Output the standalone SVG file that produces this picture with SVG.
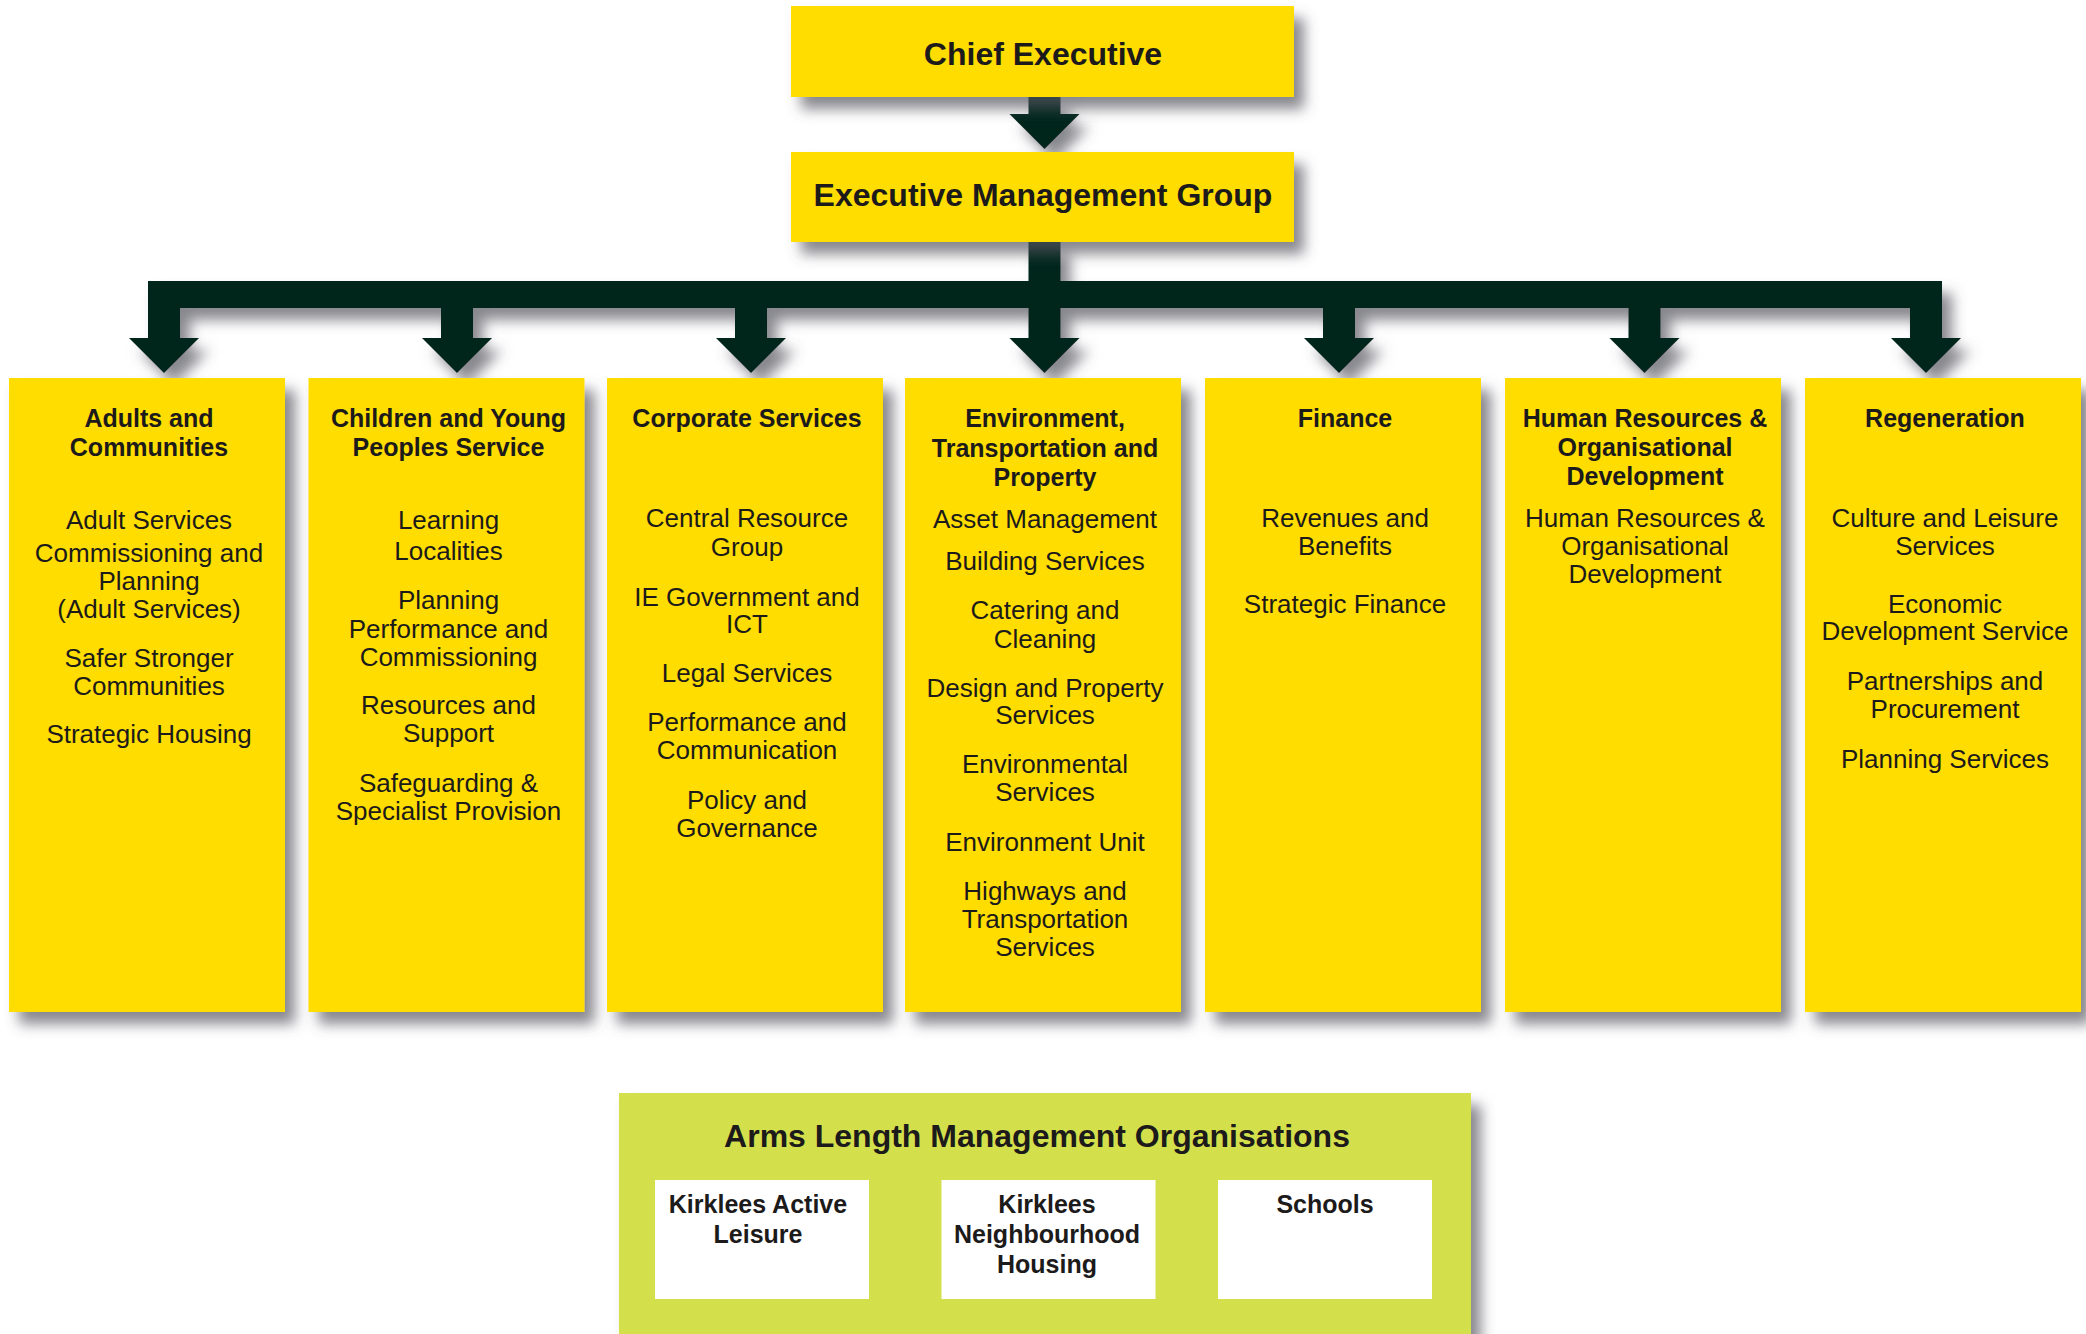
<svg xmlns="http://www.w3.org/2000/svg" width="2086" height="1334" viewBox="0 0 2086 1334">
<defs>
<filter id="sh" x="-20%" y="-30%" width="150%" height="170%">
<feDropShadow dx="10" dy="12" stdDeviation="7" flood-color="#55555f" flood-opacity="0.7"/>
</filter>
<style>
.box{fill:#FFDD00;}
.t{font-family:"Liberation Sans",Arial,sans-serif;fill:#1c1a1a;text-anchor:middle;}
.b{font-weight:bold;font-size:25px;}
.r{font-size:26px;}
.big{font-weight:bold;font-size:32px;}
.arr{fill:#00261A;}
.alm{fill:#D4E04C;}
.wb{fill:#FFFFFF;}
</style>
</defs>
<rect width="2086" height="1334" fill="#FFFFFF"/>

<g id="connectors" filter="url(#sh)">
<path class="arr" d="M1028.5,97 H1060.5 V114 H1079.5 L1044.5,149 L1009.5,114 H1028.5 Z"/>
<path class="arr" d="M1028.5,242 H1060.5 V281 H1942 V338 H1961 L1926,373 L1891,338 H1910 V308 H1660.5 V338 H1679.5 L1644.5,373 L1609.5,338 H1628.5 V308 H1355 V338 H1374 L1339,373 L1304,338 H1323 V308 H1060.5 V338 H1079.5 L1044.5,373 L1009.5,338 H1028.5 V308 H767 V338 H786 L751,373 L716,338 H735 V308 H473 V338 H492 L457,373 L422,338 H441 V308 H180 V338 H199 L164,373 L129,338 H148 V281 H1028.5 Z"/>
</g>

<g id="chief-executive">
<rect class="box" x="791" y="6" width="503" height="91" filter="url(#sh)"/>
<text class="t big" x="1043" y="65">Chief Executive</text>
</g>

<g id="executive-management-group">
<rect class="box" x="791" y="152" width="503" height="90" filter="url(#sh)"/>
<text class="t big" x="1043" y="206">Executive Management Group</text>
</g>

<g id="adults-and-communities">
<rect class="box" x="9" y="378" width="276" height="634" filter="url(#sh)"/>
<text class="t b" x="149" y="427">Adults and</text>
<text class="t b" x="149" y="456">Communities</text>
<text class="t r" x="149" y="529">Adult Services</text>
<text class="t r" x="149" y="562">Commissioning and</text>
<text class="t r" x="149" y="590">Planning</text>
<text class="t r" x="149" y="618">(Adult Services)</text>
<text class="t r" x="149" y="667">Safer Stronger</text>
<text class="t r" x="149" y="695">Communities</text>
<text class="t r" x="149" y="743">Strategic Housing</text>
</g>

<g id="children-and-young-peoples-service">
<rect class="box" x="308.5" y="378" width="276" height="634" filter="url(#sh)"/>
<text class="t b" x="448.5" y="427">Children and Young</text>
<text class="t b" x="448.5" y="456">Peoples Service</text>
<text class="t r" x="448.5" y="529">Learning</text>
<text class="t r" x="448.5" y="560">Localities</text>
<text class="t r" x="448.5" y="609">Planning</text>
<text class="t r" x="448.5" y="638">Performance and</text>
<text class="t r" x="448.5" y="666">Commissioning</text>
<text class="t r" x="448.5" y="714">Resources and</text>
<text class="t r" x="448.5" y="742">Support</text>
<text class="t r" x="448.5" y="792">Safeguarding &amp;</text>
<text class="t r" x="448.5" y="820">Specialist Provision</text>
</g>

<g id="corporate-services">
<rect class="box" x="607" y="378" width="276" height="634" filter="url(#sh)"/>
<text class="t b" x="747" y="427">Corporate Services</text>
<text class="t r" x="747" y="527">Central Resource</text>
<text class="t r" x="747" y="556">Group</text>
<text class="t r" x="747" y="606">IE Government and</text>
<text class="t r" x="747" y="633">ICT</text>
<text class="t r" x="747" y="682">Legal Services</text>
<text class="t r" x="747" y="731">Performance and</text>
<text class="t r" x="747" y="759">Communication</text>
<text class="t r" x="747" y="809">Policy and</text>
<text class="t r" x="747" y="837">Governance</text>
</g>

<g id="environment-transportation-and-property">
<rect class="box" x="905" y="378" width="276" height="634" filter="url(#sh)"/>
<text class="t b" x="1045" y="427">Environment,</text>
<text class="t b" x="1045" y="456.5">Transportation and</text>
<text class="t b" x="1045" y="485.5">Property</text>
<text class="t r" x="1045" y="528">Asset Management</text>
<text class="t r" x="1045" y="570">Building Services</text>
<text class="t r" x="1045" y="619">Catering and</text>
<text class="t r" x="1045" y="648">Cleaning</text>
<text class="t r" x="1045" y="696.5">Design and Property</text>
<text class="t r" x="1045" y="724">Services</text>
<text class="t r" x="1045" y="773">Environmental</text>
<text class="t r" x="1045" y="801">Services</text>
<text class="t r" x="1045" y="851">Environment Unit</text>
<text class="t r" x="1045" y="900">Highways and</text>
<text class="t r" x="1045" y="928">Transportation</text>
<text class="t r" x="1045" y="956">Services</text>
</g>

<g id="finance">
<rect class="box" x="1205" y="378" width="276" height="634" filter="url(#sh)"/>
<text class="t b" x="1345" y="427">Finance</text>
<text class="t r" x="1345" y="527">Revenues and</text>
<text class="t r" x="1345" y="555">Benefits</text>
<text class="t r" x="1345" y="613">Strategic Finance</text>
</g>

<g id="human-resources-and-organisational-development">
<rect class="box" x="1505" y="378" width="276" height="634" filter="url(#sh)"/>
<text class="t b" x="1645" y="427">Human Resources &amp;</text>
<text class="t b" x="1645" y="456">Organisational</text>
<text class="t b" x="1645" y="485">Development</text>
<text class="t r" x="1645" y="527">Human Resources &amp;</text>
<text class="t r" x="1645" y="555">Organisational</text>
<text class="t r" x="1645" y="583">Development</text>
</g>

<g id="regeneration">
<rect class="box" x="1805" y="378" width="276" height="634" filter="url(#sh)"/>
<text class="t b" x="1945" y="427">Regeneration</text>
<text class="t r" x="1945" y="527">Culture and Leisure</text>
<text class="t r" x="1945" y="555">Services</text>
<text class="t r" x="1945" y="613">Economic</text>
<text class="t r" x="1945" y="640">Development Service</text>
<text class="t r" x="1945" y="690">Partnerships and</text>
<text class="t r" x="1945" y="718">Procurement</text>
<text class="t r" x="1945" y="768">Planning Services</text>
</g>

<g id="arms-length-management-organisations">
<rect class="alm" x="619" y="1093" width="852" height="260" filter="url(#sh)"/>
<text class="t big" x="1037" y="1147">Arms Length Management Organisations</text>
</g>

<g id="kirklees-active-leisure">
<rect class="wb" x="655" y="1180" width="214" height="119"/>
<text class="t b" x="758" y="1213">Kirklees Active</text>
<text class="t b" x="758" y="1243">Leisure</text>
</g>

<g id="kirklees-neighbourhood-housing">
<rect class="wb" x="941.5" y="1180" width="214" height="119"/>
<text class="t b" x="1047" y="1213">Kirklees</text>
<text class="t b" x="1047" y="1243">Neighbourhood</text>
<text class="t b" x="1047" y="1273">Housing</text>
</g>

<g id="schools">
<rect class="wb" x="1218" y="1180" width="214" height="119"/>
<text class="t b" x="1325" y="1213">Schools</text>
</g>
</svg>
